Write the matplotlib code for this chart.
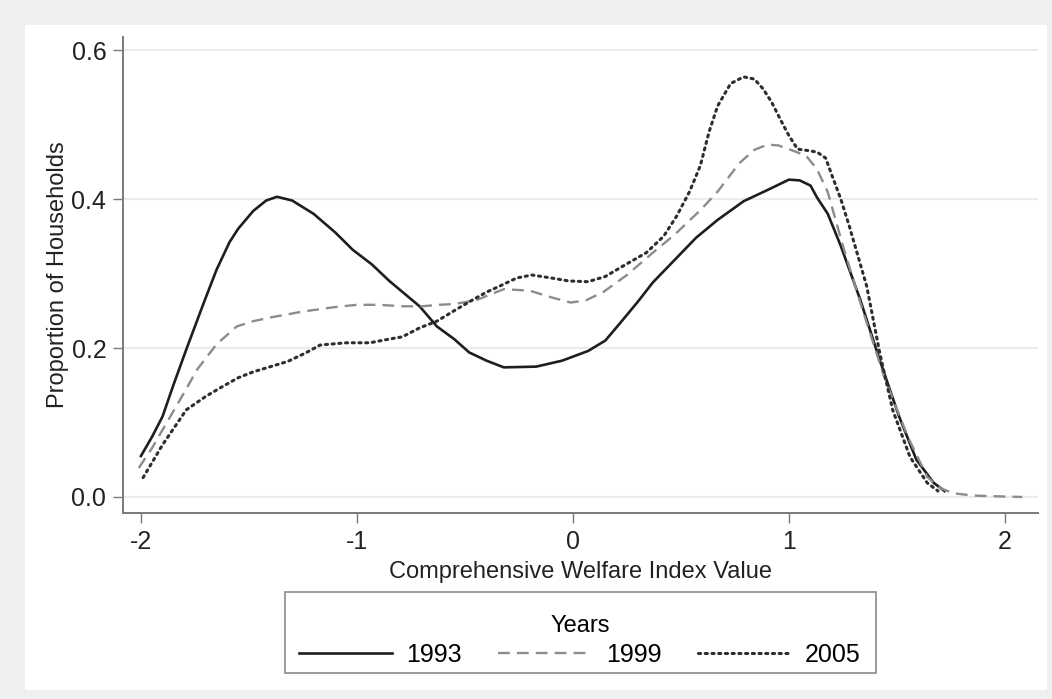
import matplotlib
matplotlib.use("Agg")
import matplotlib.pyplot as plt
from matplotlib.patches import Rectangle

plt.rcParams['font.family'] = ['Liberation Sans', 'DejaVu Sans']

# density curves
x1993 = [-2.00, -1.95, -1.90, -1.85, -1.79, -1.71, -1.65, -1.59, -1.55, -1.48, -1.42, -1.37, -1.30, -1.20,
         -1.10, -1.02, -0.93, -0.85, -0.71, -0.63, -0.55, -0.48, -0.40, -0.32, -0.17, -0.05, 0.07, 0.15,
         0.22, 0.30, 0.37, 0.47, 0.57, 0.67, 0.79, 0.90, 1.00, 1.05, 1.10, 1.13, 1.18, 1.24, 1.33, 1.42,
         1.51, 1.59, 1.67, 1.72]
y1993 = [0.055, 0.080, 0.108, 0.150, 0.198, 0.260, 0.305, 0.342, 0.360, 0.384, 0.398, 0.403, 0.398, 0.380,
         0.355, 0.332, 0.312, 0.290, 0.256, 0.229, 0.212, 0.194, 0.183, 0.174, 0.175, 0.183, 0.196, 0.210,
         0.234, 0.262, 0.288, 0.318, 0.348, 0.372, 0.397, 0.412, 0.426, 0.425, 0.418, 0.402, 0.380, 0.337,
         0.265, 0.184, 0.108, 0.050, 0.019, 0.008]

x1999 = [-2.01, -1.95, -1.88, -1.80, -1.74, -1.65, -1.556, -1.48, -1.40, -1.25, -1.10, -1.00, -0.90, -0.79,
         -0.70, -0.62, -0.55, -0.45, -0.32, -0.20, -0.10, -0.01, 0.06, 0.14, 0.25, 0.37, 0.47, 0.59, 0.67,
         0.77, 0.84, 0.90, 0.95, 1.00, 1.08, 1.13, 1.18, 1.25, 1.34, 1.44, 1.55, 1.64, 1.70, 1.76, 1.85,
         1.95, 2.08]
y1999 = [0.039, 0.065, 0.100, 0.140, 0.171, 0.205, 0.229, 0.236, 0.241, 0.249, 0.255, 0.258, 0.258, 0.256,
         0.256, 0.258, 0.259, 0.264, 0.279, 0.277, 0.268, 0.261, 0.264, 0.275, 0.298, 0.328, 0.352, 0.385,
         0.410, 0.448, 0.466, 0.473, 0.472, 0.467, 0.458, 0.440, 0.409, 0.337, 0.252, 0.162, 0.081, 0.027,
         0.012, 0.005, 0.002, 0.001, 0.000]

x2005 = [-1.99, -1.90, -1.79, -1.70, -1.63, -1.55, -1.48, -1.40, -1.32, -1.24, -1.17, -1.05, -0.94, -0.85,
         -0.79, -0.71, -0.63, -0.55, -0.48, -0.40, -0.34, -0.26, -0.19, -0.10, -0.02, 0.07, 0.15, 0.22,
         0.34, 0.42, 0.48, 0.54, 0.59, 0.63, 0.67, 0.73, 0.79, 0.84, 0.88, 0.92, 0.96, 1.00, 1.04, 1.09,
         1.13, 1.17, 1.20, 1.24, 1.28, 1.36, 1.42, 1.48, 1.56, 1.64, 1.69]
y2005 = [0.026, 0.070, 0.117, 0.135, 0.147, 0.160, 0.168, 0.175, 0.182, 0.193, 0.204, 0.207, 0.207, 0.212,
         0.215, 0.227, 0.236, 0.250, 0.262, 0.275, 0.283, 0.294, 0.298, 0.294, 0.290, 0.289, 0.296, 0.308,
         0.328, 0.350, 0.377, 0.410, 0.445, 0.490, 0.525, 0.555, 0.564, 0.561, 0.548, 0.530, 0.507, 0.485,
         0.467, 0.465, 0.463, 0.455, 0.431, 0.400, 0.363, 0.283, 0.194, 0.117, 0.054, 0.019, 0.008]

years = ["1993", "1999", "2005"]
xticks = [-2, -1, 0, 1, 2]
yticks = [0.0, 0.2, 0.4, 0.6]

fig = plt.figure(figsize=(10.52, 6.99), dpi=100)
fig.patch.set_facecolor('#efefef')
panel = Rectangle((25 / 1052, 1 - 690 / 699), 1022 / 1052, 665 / 699,
                  transform=fig.transFigure, facecolor='white', edgecolor='none', zorder=-10)
fig.add_artist(panel)

ax = fig.add_axes([123 / 1052, 1 - 513 / 699, 915 / 1052, 476 / 699])
ax.set_facecolor('white')

ax.plot(x1993, y1993, color='#1e1e1e', lw=1.9, label=years[0])
ax.plot(x1999, y1999, color='#8c8c8c', lw=1.7, dashes=(5, 3), label=years[1])
ax.plot(x2005, y2005, color='#2e2e2e', lw=2.2, linestyle=(0, (0.7, 1.5)),
        dash_capstyle='round', label=years[2])

ax.set_xlim(-2.083, 2.153)
ax.set_ylim(-0.0215, 0.6175)
ax.set_xticks(xticks)
ax.set_xticklabels(['-2', '-1', '0', '1', '2'])
ax.set_yticks(yticks)
ax.set_yticklabels(['0.0', '0.2', '0.4', '0.6'])

for v in yticks:
    ax.axhline(v, color='#ebebeb', lw=1.5, zorder=0)

for s in ['top', 'right']:
    ax.spines[s].set_visible(False)
for s in ['left', 'bottom']:
    ax.spines[s].set_color('#7a7a7a')
    ax.spines[s].set_linewidth(1.4)

ax.tick_params(axis='both', colors='#7a7a7a', length=7, width=1.0, labelsize=18,
               labelcolor='#222222', pad=5)

ax.set_xlabel('Comprehensive Welfare Index Value', fontsize=17, color='#222222', labelpad=5)
ax.set_ylabel('Proportion of Households', fontsize=17, color='#222222', labelpad=2)

# legend box drawn separately so the title sits lower, as in the original
box = Rectangle((285 / 1052, 1 - 673 / 699), 591 / 1052, 81 / 699, transform=fig.transFigure,
                facecolor='white', edgecolor='#8a8a8a', lw=1.2, zorder=1)
fig.add_artist(box)
leg = fig.legend(loc='center', bbox_to_anchor=(580 / 1052, 1 - 641 / 699), ncol=3, title='Years',
                 fontsize=18, title_fontsize=17, frameon=False,
                 handlelength=3.7, handletextpad=0.6, columnspacing=1.45, borderpad=0.2,
                 labelspacing=0.2)
leg.set_zorder(2)

fig.savefig('out.png', dpi=100, facecolor=fig.get_facecolor())
